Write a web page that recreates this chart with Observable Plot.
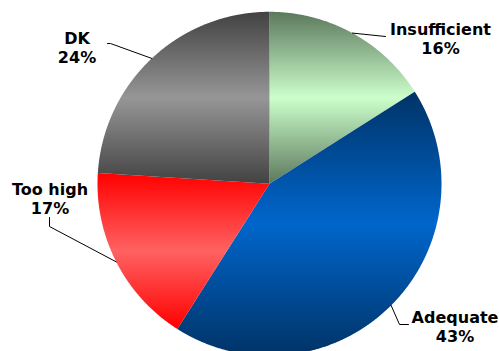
<!DOCTYPE html>
<html><head><meta charset="utf-8">
<script src="https://cdn.jsdelivr.net/npm/d3@7"></script>
<script src="https://cdn.jsdelivr.net/npm/@observablehq/plot@0.6"></script>
<style>html,body{margin:0;padding:0;background:#fff;overflow:hidden}</style>
</head><body><div id="chart"></div>
<script>
// ---- data ----
const categories = ["Insufficient", "Adequate", "Too high", "DK"];
const shares = [16, 43, 17, 24];

// ---- styles ----
const gradients = [
  ["#5c785c", "#ccffcc", "#5c785c"],
  ["#003366", "#0066cc", "#003366"],
  ["#ff0000", "#ff6262", "#ff0000"],
  ["#424242", "#969696", "#424242"]
];

// ---- layout (pixels) ----
const W = 499, H = 351, CX = 269, CY = 183.3, R = 172;
const labelLayout = [
  {path: [[385, 36]], tx: 440, ty: 31.7},
  {path: [[399, 324], [408, 324]], tx: 454.5, ty: 320},
  {path: [[49, 226], [49, 217]], tx: 49.5, ty: 192},
  {path: [[110, 43], [107, 43]], tx: 76.5, ty: 41}
];
const FS = 16, LH = 19.3;
const ux = px => (px - CX) / R;
const uy = py => (CY - py) / R;

const arcs = d3.pie().sort(null).value(d => d)(shares);

// slice polygons (unit coordinates, y up, angle clockwise from top)
const slices = arcs.map((a, i) => {
  const pts = [{x: 0, y: 0}];
  const n = Math.max(2, Math.ceil((a.endAngle - a.startAngle) / (Math.PI / 720)));
  for (let k = 0; k <= n; k++) {
    const t = a.startAngle + (a.endAngle - a.startAngle) * k / n;
    pts.push({x: Math.sin(t), y: Math.cos(t)});
  }
  return pts;
});

// leader lines
const leaders = arcs.map((a, i) => {
  const m = (a.startAngle + a.endAngle) / 2;
  const pts = [{x: Math.sin(m), y: Math.cos(m), i}];
  labelLayout[i].path.forEach(([px, py]) => pts.push({x: ux(px), y: uy(py), i}));
  return pts;
}).flat();

const labels = categories.map((c, i) => ({
  text: c + "\n" + shares[i] + "%",
  x: ux(labelLayout[i].tx),
  y: uy(labelLayout[i].ty - 0.71 * FS)
}));

const marks = slices.map((pts, i) =>
  Plot.line(pts, {x: "x", y: "y", fill: `url(#grad${i})`, stroke: "none", curve: "linear-closed"})
);
marks.push(Plot.line(leaders, {x: "x", y: "y", z: "i", stroke: "#000", strokeWidth: 1}));
marks.push(Plot.text(labels, {
  x: "x", y: "y", text: "text", textAnchor: "middle", lineAnchor: "top",
  lineHeight: LH / FS, fontFamily: "DejaVu Sans", fontWeight: "bold", fontSize: FS, fill: "#000"
}));

const svg = Plot.plot({
  width: W, height: H, margin: 0,
  style: {background: "#fff", overflow: "hidden"},
  x: {domain: [ux(0), ux(W)], axis: null},
  y: {domain: [uy(H), uy(0)], axis: null},
  marks
});

const defs = d3.select(svg).insert("defs", ":first-child");
gradients.forEach((g, i) => {
  const lg = defs.append("linearGradient").attr("id", `grad${i}`)
    .attr("x1", 0).attr("y1", 0).attr("x2", 0).attr("y2", 1);
  g.forEach((c, k) => lg.append("stop").attr("offset", k / (g.length - 1)).attr("stop-color", c));
});

document.getElementById("chart").appendChild(svg);
</script>
</body></html>
